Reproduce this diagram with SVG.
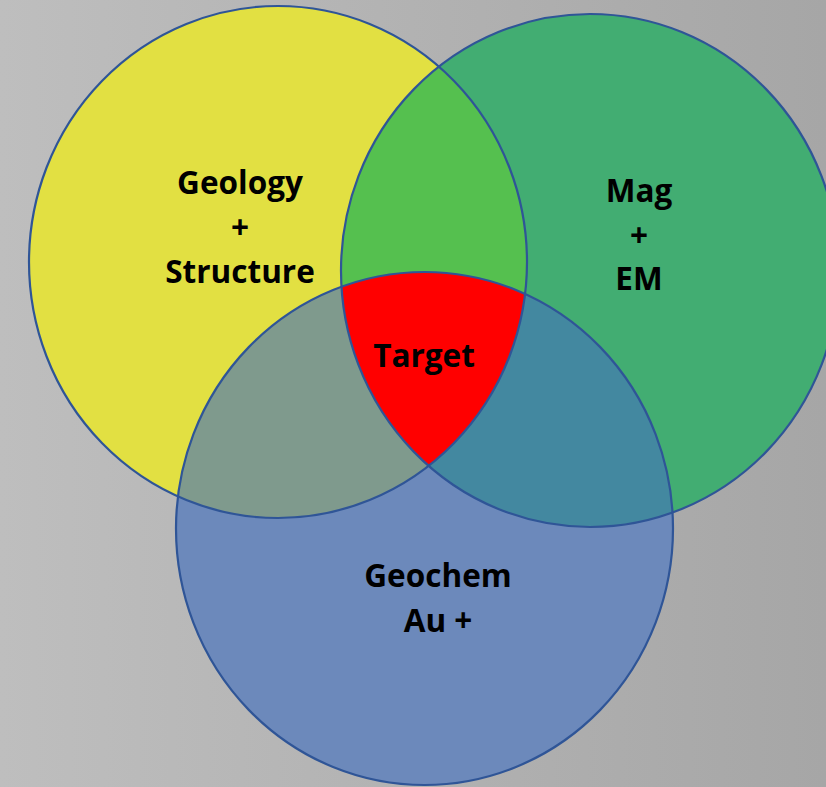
<svg xmlns="http://www.w3.org/2000/svg" width="826" height="787" viewBox="0 0 826 787">
  <defs>
    <linearGradient id="bg" x1="0" y1="0" x2="1" y2="0">
      <stop offset="0" stop-color="#BEBEBE"/>
      <stop offset="1" stop-color="#A6A6A6"/>
    </linearGradient>
    <clipPath id="cY"><ellipse cx="278" cy="262" rx="249" ry="256"/></clipPath>
    <clipPath id="cG"><ellipse cx="590" cy="270.5" rx="249" ry="256.5"/></clipPath>
    <clipPath id="cB"><ellipse cx="424.5" cy="528.5" rx="248.5" ry="256.5"/></clipPath>
    <style>
      .ol { fill: none; stroke: #2F5597; stroke-width: 2.2; }
      .lbl { font-family: "Open Sans", "Liberation Sans", sans-serif; font-weight: bold; font-size: 31.5px; fill: #000; text-anchor: middle; }
    </style>
  </defs>
  <rect x="0" y="0" width="826" height="787" fill="url(#bg)"/>

  <g id="geology">
    <ellipse cx="278" cy="262" rx="249" ry="256" fill="#E2E042"/>
  </g>
  <g id="mag-em">
    <ellipse cx="590" cy="270.5" rx="249" ry="256.5" fill="#42AD72"/>
  </g>
  <g id="geochem">
    <ellipse cx="424.5" cy="528.5" rx="248.5" ry="256.5" fill="#6C89BB"/>
  </g>

  <g id="overlaps">
    <g clip-path="url(#cY)">
      <ellipse cx="590" cy="270.5" rx="249" ry="256.5" fill="#55C04F"/>
      <ellipse cx="424.5" cy="528.5" rx="248.5" ry="256.5" fill="#7F9A8D"/>
    </g>
    <g clip-path="url(#cG)">
      <ellipse cx="424.5" cy="528.5" rx="248.5" ry="256.5" fill="#4388A0"/>
    </g>
    <g id="target" clip-path="url(#cY)">
      <g clip-path="url(#cG)">
        <ellipse cx="424.5" cy="528.5" rx="248.5" ry="256.5" fill="#FF0000"/>
      </g>
    </g>
  </g>

  <g id="outlines">
    <ellipse class="ol" cx="278" cy="262" rx="249" ry="256"/>
    <ellipse class="ol" cx="590" cy="270.5" rx="249" ry="256.5"/>
    <ellipse class="ol" cx="424.5" cy="528.5" rx="248.5" ry="256.5"/>
  </g>

  <g id="labels">
    <text class="lbl" x="240" y="194">Geology</text>
    <text class="lbl" x="240" y="239">+</text>
    <text class="lbl" x="240" y="283">Structure</text>
    <text class="lbl" x="639" y="202">Mag</text>
    <text class="lbl" x="639" y="247">+</text>
    <text class="lbl" x="639" y="290">EM</text>
    <text class="lbl" x="424" y="367">Target</text>
    <text class="lbl" x="438" y="587">Geochem</text>
    <text class="lbl" x="438" y="632">Au +</text>
  </g>
</svg>
